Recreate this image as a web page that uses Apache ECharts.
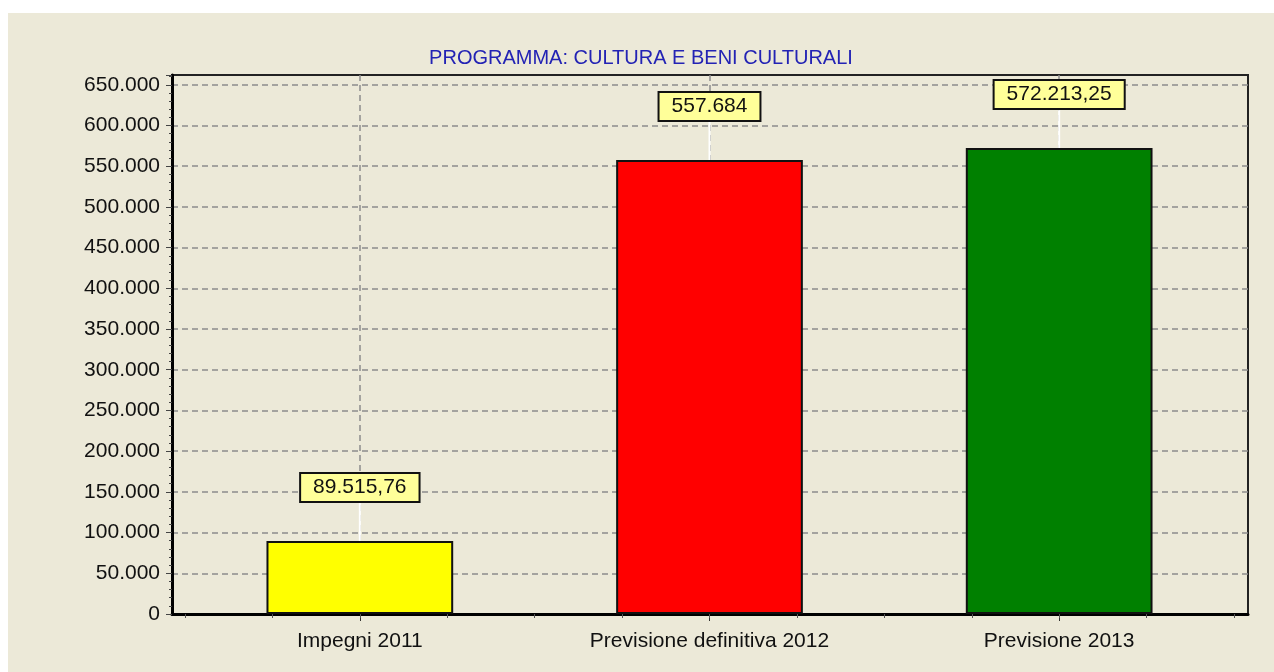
<!DOCTYPE html>
<html>
<head>
<meta charset="utf-8">
<script src="https://cdn.jsdelivr.net/npm/echarts@6/dist/echarts.min.js"></script>
<style>
  html, body { margin: 0; padding: 0; background: #ffffff; }
  #chart { position: absolute; left: 8px; top: 13px; width: 1266px; height: 659px; }
</style>
</head>
<body>
<div id="chart"></div>
<script>
const titleText = 'PROGRAMMA: CULTURA E BENI CULTURALI';
const categories = ['Impegni 2011', 'Previsione definitiva 2012', 'Previsione 2013'];
const values = [89515.76, 557684, 572213.25];
const valueLabels = ['89.515,76', '557.684', '572.213,25'];
const barColors = ['#ffff00', '#ff0000', '#008000'];
const yMin = 0;
const yMax = 662000;
const yInterval = 50000;
const ticksPerCategory = 4;

function fmtIt(v) {
  return String(Math.round(v)).replace(/\B(?=(\d{3})+(?!\d))/g, '.');
}

const FONT = 'Liberation Sans, Arial, sans-serif';
const quarterSlots = [];
for (let i = 0; i < categories.length * ticksPerCategory; i++) quarterSlots.push('');

const chart = echarts.init(document.getElementById('chart'));
chart.setOption({
  backgroundColor: '#ece9d8',
  animation: false,
  title: {
    text: titleText,
    left: 'center',
    top: 30,
    textStyle: { color: '#2323b4', fontFamily: FONT, fontSize: 20, fontWeight: 'normal' }
  },
  grid: [
    { left: 164, right: 26, top: 62, bottom: 58, show: true, borderColor: '#222', borderWidth: 2, backgroundColor: 'transparent' },
    { left: 177, right: 40, top: 62, bottom: 58 }
  ],
  xAxis: [
    {
      gridIndex: 0, type: 'value', min: 0, max: 1,
      axisLine: { show: true, lineStyle: { color: '#000', width: 3 } },
      axisTick: { show: false }, axisLabel: { show: false }, splitLine: { show: false }
    },
    {
      gridIndex: 1, type: 'category', data: categories,
      axisLine: { show: false },
      axisTick: { show: true, alignWithLabel: true, length: 7, lineStyle: { color: '#333', width: 1 } },
      axisLabel: { color: '#111', fontFamily: FONT, fontSize: 21, margin: 17 },
      splitLine: { show: true, alignWithLabel: true, lineStyle: { color: '#8c8c8c', type: [6, 4], width: 1.5 } }
    },
    {
      gridIndex: 1, type: 'category', data: quarterSlots, position: 'bottom',
      axisLine: { show: false },
      axisTick: { show: true, interval: 0, length: 4, lineStyle: { color: '#555', width: 1 } },
      axisLabel: { show: false },
      splitLine: { show: false }
    }
  ],
  yAxis: [
    {
      gridIndex: 0, type: 'value', min: yMin, max: yMax, interval: yInterval,
      axisLine: { show: true, lineStyle: { color: '#000', width: 3 } },
      axisTick: { show: true, length: 6, inside: false, lineStyle: { color: '#444', width: 1 } },
      minorTick: { show: true, splitNumber: 5, length: 3, lineStyle: { color: '#444' } },
      axisLabel: {
        color: '#111', fontFamily: FONT, fontSize: 21, margin: 12, showMaxLabel: false,
        formatter: v => (v % yInterval === 0 ? fmtIt(v) : '')
      },
      splitLine: { show: true, showMaxLine: false, showMinLine: false, lineStyle: { color: '#8c8c8c', type: [6, 4], width: 1.5 } }
    },
    {
      gridIndex: 1, type: 'value', min: yMin, max: yMax, interval: yInterval, show: false,
      splitLine: { show: false }
    }
  ],
  series: [{
    type: 'bar',
    xAxisIndex: 1, yAxisIndex: 1,
    barWidth: '53.4%',
    data: values.map((v, i) => ({
      value: v,
      itemStyle: { color: barColors[i], borderColor: '#111', borderWidth: 2 },
      label: { formatter: valueLabels[i] }
    })),
    label: {
      show: true, position: 'top', distance: 0,
      color: '#111', fontFamily: FONT, fontSize: 21,
      backgroundColor: '#ffff99', borderColor: '#111', borderWidth: 2,
      padding: [3, 12, 3, 12]
    },
    labelLayout: { dy: -40 },
    labelLine: { show: true, lineStyle: { color: '#ffffff', width: 2 } }
  }]
});
</script>
</body>
</html>
